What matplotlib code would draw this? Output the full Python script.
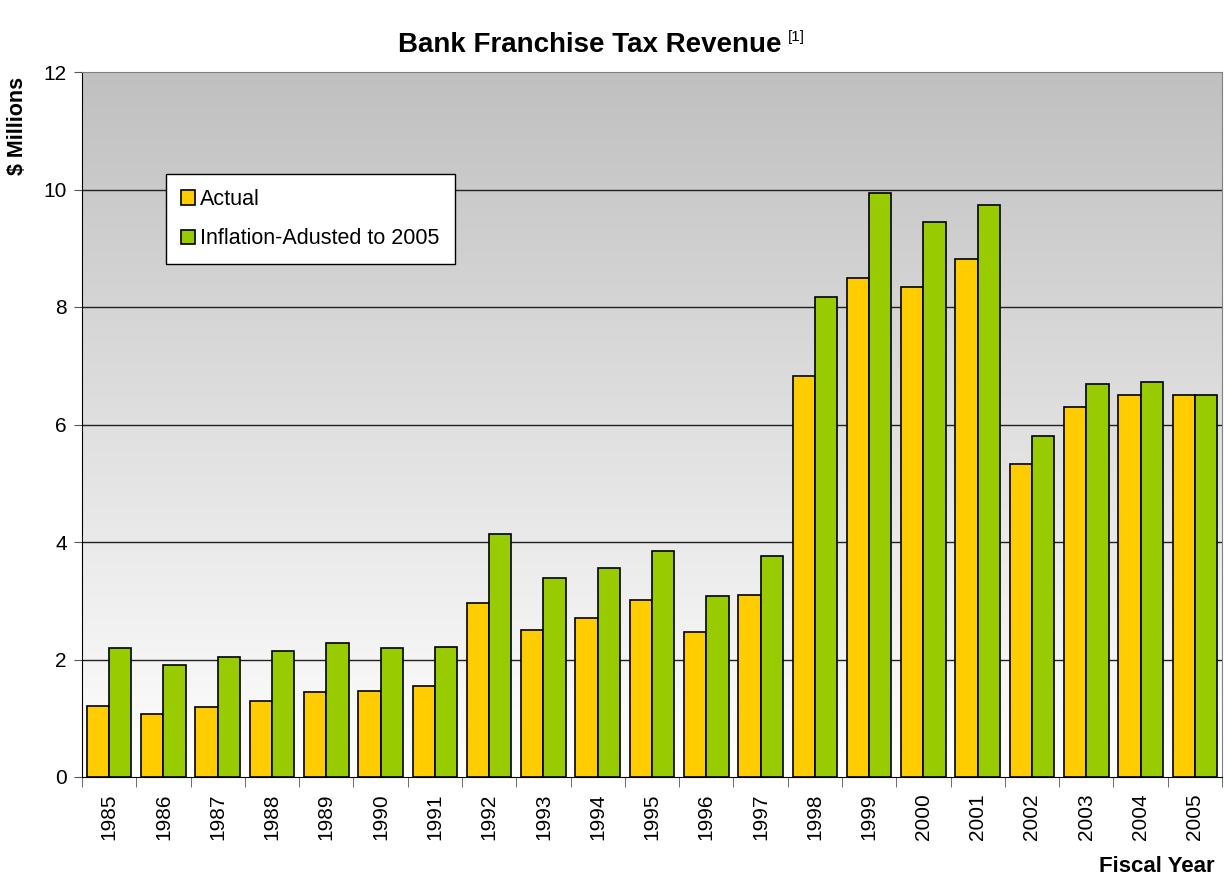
import matplotlib

matplotlib.use("Agg")
import matplotlib.pyplot as plt
import numpy as np

plt.rcParams["font.family"] = ["Liberation Sans", "DejaVu Sans"]

YEARS = [str(y) for y in range(1985, 2006)]
ACTUAL = [1.21, 1.07, 1.19, 1.30, 1.45, 1.47, 1.55, 2.96, 2.50, 2.70, 3.01,
          2.47, 3.09, 6.83, 8.49, 8.34, 8.82, 5.33, 6.30, 6.50, 6.50]
ADJUSTED = [2.19, 1.91, 2.04, 2.15, 2.28, 2.20, 2.22, 4.14, 3.38, 3.56, 3.85,
            3.08, 3.77, 8.17, 9.94, 9.45, 9.73, 5.80, 6.69, 6.73, 6.50]
Y_TICKS = [0, 2, 4, 6, 8, 10, 12]

fig = plt.figure(figsize=(12.25, 8.82), dpi=100)
ax = fig.add_axes([82 / 1225, 1 - 777 / 882, 1140 / 1225, 705 / 882])

n = len(YEARS)
x = np.arange(n)
w = 0.41

# white (bottom) to grey (top) background gradient
grad = np.linspace(255, 192, 256)[:, None] / 255.0
ax.imshow(np.dstack([grad, grad, grad]), extent=(-0.5, n - 0.5, 0, 12),
          origin="lower", aspect="auto", zorder=0, interpolation="bilinear")

for yv in Y_TICKS[1:-1]:
    ax.axhline(yv, color="#222222", lw=1, zorder=1)

ax.bar(x - w / 2, ACTUAL, w, color="#FFCC00", edgecolor="black", lw=1.2,
       zorder=2, label="Actual")
ax.bar(x + w / 2, ADJUSTED, w, color="#99CC00", edgecolor="black", lw=1.2,
       zorder=2, label="Inflation-Adusted to 2005")

ax.set_xlim(-0.5, n - 0.5)
ax.set_ylim(0, 12)
ax.set_yticks(Y_TICKS)
ax.set_yticklabels([str(v) for v in Y_TICKS], fontsize=15)
ax.set_xticks(x)
ax.set_xticklabels(YEARS, rotation=90, fontsize=15)
ax.tick_params(axis="x", length=0, pad=12)
ax.set_xticks(np.arange(-0.5, n, 1), minor=True)
ax.tick_params(axis="x", which="minor", length=7, color="#555555")
ax.tick_params(axis="y", length=6, color="#555555", pad=5)

for side in ("top", "right"):
    ax.spines[side].set_color("#808080")
for side in ("left", "bottom"):
    ax.spines[side].set_color("black")

leg = ax.legend(loc="upper left", bbox_to_anchor=(84 / 1140, (777 - 174) / 705),
                fontsize=15.5, frameon=True, fancybox=False, edgecolor="black",
                framealpha=1, handlelength=0.65, handleheight=0.65,
                handletextpad=0.25, labelspacing=0.85, borderpad=0.7,
                borderaxespad=0)
leg.get_frame().set_linewidth(1)

fig.text(590 / 1225, 1 - 45 / 882, "Bank Franchise Tax Revenue", fontsize=20,
         fontweight="bold", ha="center", va="center")
fig.text(788 / 1225, 1 - 37 / 882, "[1]", fontsize=11, ha="left", va="center")
fig.text(18 / 1225, 1 - 126 / 882, "$ Millions", fontsize=15.5, fontweight="bold",
         rotation=90, ha="center", va="center")
fig.text(1215 / 1225, 1 - 866 / 882, "Fiscal Year", fontsize=16,
         fontweight="bold", ha="right", va="center")

fig.savefig("out.png", dpi=100)
